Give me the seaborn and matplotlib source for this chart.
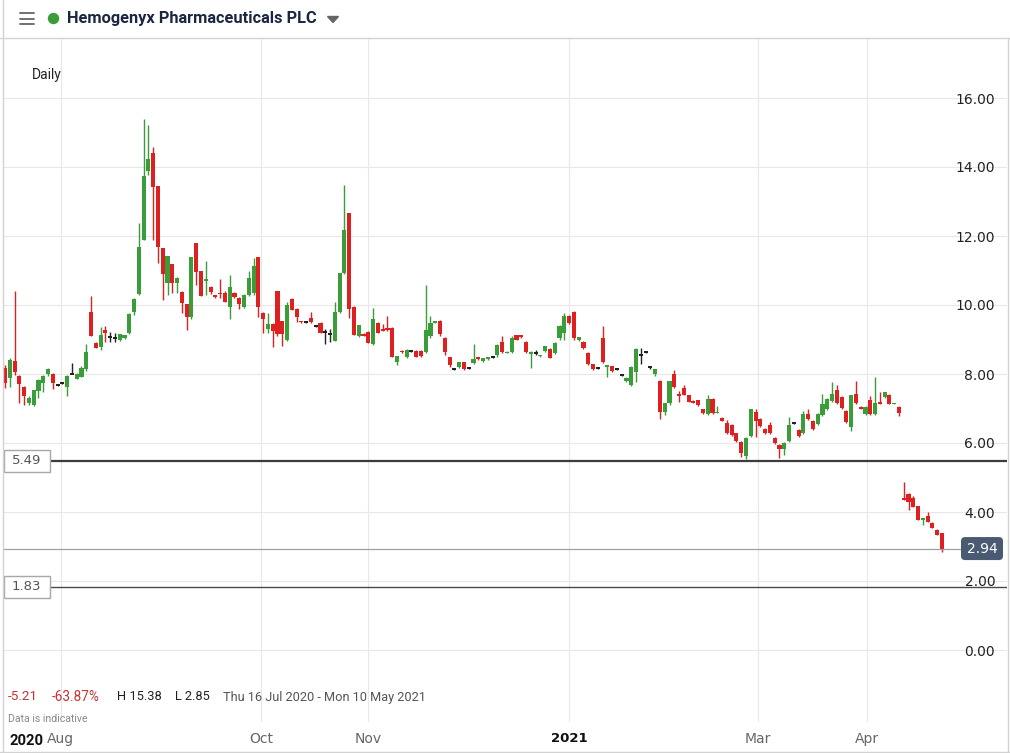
import matplotlib
matplotlib.use("Agg")
import matplotlib.pyplot as plt
import matplotlib.transforms as mtransforms
from matplotlib.patches import Rectangle, FancyBboxPatch, Ellipse, Polygon
from matplotlib.lines import Line2D
import numpy as np
import pandas as pd
import seaborn as sns

# ---------------- data (daily candles, 16 Jul 2020 -> 2021) ----------------
opens = [8.17, 7.88, 8.38, 7.94, 7.62, 7.16, 7.10, 7.51, 7.74, 8.00,
         8.00, 7.68, 7.74, 7.62, 8.00, 7.86, 7.91, 8.14, 9.80, 8.90,
         8.78, 9.28, 9.07, 9.04, 8.99, 9.04, 9.19, 9.80, 10.32, 11.88,
         13.88, 14.41, 13.45, 11.65, 10.64, 11.19, 10.64, 10.38, 10.03, 9.65,
         11.80, 10.99, 10.70, 10.52, 10.29, 10.35, 10.35, 9.94, 10.35, 10.20,
         9.94, 10.29, 10.35, 11.39, 9.77, 9.30, 9.45, 10.41, 9.54, 8.99,
         10.17, 9.88, 9.53, 9.51, 9.62, 9.39, 9.48, 9.22, 9.16, 8.96,
         9.80, 10.93, 12.67, 9.94, 9.10, 9.16, 9.22, 8.87, 9.48, 9.30,
         9.33, 9.33, 8.35, 8.68, 8.50, 8.67, 8.67, 8.67, 8.64, 9.10,
         9.50, 9.54, 9.04, 8.49, 8.14, 8.20, 8.35, 8.17, 8.32, 8.49,
         8.38, 8.43, 8.49, 8.55, 8.93, 8.61, 8.64, 9.13, 9.13, 8.93,
         8.58, 8.61, 8.52, 8.67, 8.72, 8.61, 9.04, 9.19, 9.68, 9.80,
         8.99, 8.93, 8.61, 8.29, 8.17, 9.04, 8.20, 8.23, 8.14, 7.97,
         7.80, 7.68, 8.06, 8.55, 8.64, 8.20, 8.00, 7.80, 6.90, 7.16,
         8.00, 7.42, 7.59, 7.39, 7.22, 7.25, 6.99, 6.84, 7.28, 6.87,
         6.72, 6.58, 6.52, 6.29, 6.03, 5.62, 6.20, 6.90, 6.70, 6.41,
         6.52, 6.14, 5.94, 5.82, 6.06, 6.58, 6.38, 6.29, 6.84, 6.64,
         6.55, 6.81, 6.99, 7.22, 7.54, 7.33, 6.93, 6.46, 7.42, 7.04,
         6.84, 7.25, 6.84, 7.19, 7.33, 7.39, 7.13, 7.04, 4.40, 4.52,
         4.41, 4.17, 3.79, 3.88, 3.68, 3.48, 3.39]
highs = [8.25, 8.45, 10.41, 7.97, 7.65, 7.36, 7.55, 7.85, 7.96, 8.17,
         8.02, 7.70, 7.76, 7.97, 8.32, 8.02, 8.23, 8.87, 10.26, 8.92,
         9.36, 9.39, 9.22, 9.19, 9.16, 9.13, 9.77, 10.20, 12.38, 15.38,
         15.22, 14.58, 13.45, 11.65, 11.42, 11.20, 10.80, 10.40, 10.03, 11.39,
         11.80, 10.99, 11.28, 10.55, 10.30, 10.75, 10.40, 10.87, 10.38, 10.22,
         10.32, 10.99, 11.36, 11.39, 9.80, 9.77, 9.48, 10.41, 9.55, 10.10,
         10.20, 9.90, 9.55, 9.53, 9.80, 9.41, 9.50, 9.30, 9.30, 10.09,
         10.93, 13.48, 12.67, 9.96, 9.42, 9.20, 9.25, 9.91, 9.50, 9.45,
         9.68, 9.35, 8.52, 8.70, 8.72, 8.69, 8.70, 8.70, 10.58, 9.68,
         9.53, 9.56, 9.06, 8.50, 8.16, 8.36, 8.36, 8.19, 8.87, 8.50,
         8.47, 8.50, 8.51, 8.86, 9.10, 8.66, 9.10, 9.14, 9.14, 8.95,
         8.66, 8.70, 8.56, 8.82, 8.74, 8.92, 9.41, 9.77, 9.70, 9.83,
         9.08, 8.95, 8.63, 8.30, 8.19, 9.39, 8.27, 8.24, 8.16, 7.99,
         7.90, 8.22, 8.75, 8.75, 8.66, 8.22, 8.15, 7.82, 7.16, 7.80,
         8.12, 7.51, 7.68, 7.40, 7.24, 7.26, 7.00, 7.38, 7.29, 7.06,
         6.74, 6.68, 6.54, 6.30, 6.05, 6.16, 6.99, 6.99, 6.72, 6.43,
         6.62, 6.16, 5.96, 6.02, 6.75, 6.60, 6.40, 6.94, 7.00, 6.66,
         6.87, 7.42, 7.30, 7.77, 7.68, 7.35, 6.95, 7.39, 7.80, 7.06,
         7.06, 7.35, 7.91, 7.48, 7.48, 7.41, 7.17, 7.06, 4.87, 4.55,
         4.47, 4.18, 3.82, 4.00, 3.70, 3.50, 3.40]
lows = [7.59, 7.62, 7.97, 7.16, 7.10, 7.10, 7.07, 7.30, 7.48, 7.94,
        7.57, 7.66, 7.72, 7.36, 8.00, 7.86, 7.91, 8.10, 9.10, 8.75,
        8.70, 8.93, 8.93, 8.93, 8.96, 9.02, 9.15, 9.71, 10.30, 11.88,
        13.77, 11.88, 11.22, 10.14, 10.29, 10.35, 10.35, 9.77, 9.28, 9.60,
        10.58, 10.26, 10.29, 10.32, 10.20, 10.20, 10.09, 9.59, 10.20, 9.88,
        9.90, 10.25, 10.30, 9.65, 9.19, 9.19, 8.78, 9.10, 8.81, 8.95,
        9.86, 9.50, 9.48, 9.49, 9.48, 9.37, 9.19, 8.87, 8.93, 8.96,
        9.78, 10.90, 9.62, 9.13, 9.08, 9.10, 8.90, 8.85, 9.19, 9.24,
        9.25, 8.50, 8.26, 8.62, 8.45, 8.65, 8.50, 8.50, 8.60, 9.05,
        9.48, 9.10, 8.55, 8.20, 8.12, 8.18, 8.12, 8.15, 8.30, 8.42,
        8.36, 8.41, 8.47, 8.50, 8.60, 8.60, 8.60, 8.98, 9.05, 8.60,
        8.17, 8.55, 8.50, 8.65, 8.45, 8.58, 8.98, 9.00, 9.45, 9.00,
        8.95, 8.72, 8.27, 8.12, 8.15, 8.33, 7.91, 8.07, 8.12, 7.95,
        7.78, 7.66, 7.77, 8.30, 8.62, 8.15, 7.95, 6.71, 6.80, 7.10,
        7.60, 7.20, 7.38, 7.18, 7.15, 7.08, 6.85, 6.82, 6.85, 6.86,
        6.63, 6.25, 6.20, 6.04, 5.58, 5.55, 6.18, 6.17, 6.47, 6.27,
        6.27, 5.98, 5.57, 5.65, 6.04, 6.56, 6.18, 6.27, 6.68, 6.39,
        6.52, 6.78, 6.97, 7.20, 7.12, 6.98, 6.58, 6.36, 7.14, 6.98,
        6.82, 6.82, 6.82, 7.12, 7.30, 7.12, 7.12, 6.78, 4.34, 4.06,
        4.14, 3.77, 3.62, 3.70, 3.53, 3.32, 2.85]
closes = [7.74, 8.41, 8.06, 7.71, 7.36, 7.30, 7.54, 7.83, 7.94, 8.14,
          7.74, 7.68, 7.74, 7.94, 8.00, 8.00, 8.17, 8.64, 9.10, 8.75,
          9.13, 9.19, 9.07, 9.04, 9.16, 9.13, 9.74, 10.17, 11.68, 13.74,
          14.23, 13.42, 11.68, 10.90, 11.42, 10.64, 10.78, 10.06, 9.65, 11.39,
          10.96, 10.26, 10.74, 10.38, 10.23, 10.32, 10.09, 10.52, 10.23, 10.03,
          10.29, 10.78, 11.13, 9.94, 9.59, 9.45, 9.25, 9.16, 9.16, 10.00,
          9.86, 9.65, 9.51, 9.51, 9.51, 9.39, 9.19, 9.22, 9.16, 9.80,
          10.93, 12.17, 9.88, 9.13, 9.42, 9.10, 8.90, 9.59, 9.19, 9.25,
          9.28, 8.50, 8.52, 8.64, 8.70, 8.67, 8.50, 8.52, 9.28, 9.48,
          9.52, 9.16, 8.64, 8.26, 8.14, 8.35, 8.14, 8.17, 8.43, 8.43,
          8.46, 8.49, 8.49, 8.84, 8.64, 8.64, 9.04, 8.99, 9.07, 8.64,
          8.64, 8.61, 8.55, 8.81, 8.46, 8.90, 9.39, 9.68, 9.48, 9.04,
          9.07, 8.75, 8.29, 8.14, 8.17, 8.35, 8.26, 8.09, 8.14, 7.97,
          7.88, 8.20, 8.72, 8.55, 8.64, 8.20, 8.14, 6.90, 7.16, 7.80,
          7.62, 7.36, 7.39, 7.19, 7.16, 7.10, 6.87, 7.28, 6.87, 6.90,
          6.64, 6.29, 6.23, 6.06, 5.71, 6.14, 6.99, 6.64, 6.49, 6.29,
          6.29, 6.00, 5.82, 6.00, 6.52, 6.58, 6.20, 6.84, 6.70, 6.41,
          6.84, 7.13, 7.28, 7.42, 7.16, 7.01, 6.61, 7.39, 7.16, 6.99,
          7.04, 6.84, 7.16, 7.13, 7.48, 7.13, 7.16, 6.87, 4.36, 4.29,
          4.14, 3.77, 3.81, 3.71, 3.54, 3.33, 2.94]

month_pos = [11.7, 53.5, 75.9, 118.0, 157.5, 180.3]
month_labels = ["Aug", "Oct", "Nov", "2021", "Mar", "Apr"]
year_labels = {"2021"}
ytick_values = [0, 2, 4, 6, 8, 10, 12, 14, 16]
level_hi = 5.49
level_lo = 1.83
last_price = 2.94
title = "Hemogenyx Pharmaceuticals PLC"
info_change = "-5.21"
info_pct = "-63.87%"
info_high = "H 15.38"
info_low = "L 2.85"
info_range = "Thu 16 Jul 2020 - Mon 10 May 2021"

# ---------------- styling ----------------
GREEN = "#3a9d3a"
RED = "#dd2020"
BLACK = "#222222"
GRID = "#e8e8e8"
BORDER = "#d2d2d2"

W, H = 1010, 753
sns.set_theme(style="white")
plt.rcParams['font.family'] = ['DejaVu Sans']

fig = plt.figure(figsize=(W / 100, H / 100), dpi=100)
fig.patch.set_facecolor("white")

AX_L, AX_R, AX_T, AX_B = 3, 1007, 38, 722
ax = fig.add_axes([AX_L / W, 1 - AX_B / H, (AX_R - AX_L) / W, (AX_B - AX_T) / H])
ax.set_facecolor("white")

df = pd.DataFrame({"open": opens, "high": highs, "low": lows, "close": closes})
df["x"] = np.arange(len(df))


def colour(r):
    if r.close > r.open:
        return GREEN
    if r.close < r.open:
        return RED
    return BLACK


df["color"] = df.apply(colour, axis=1)

ax.vlines(df["x"], df["low"], df["high"], colors=df["color"], linewidth=1.0, zorder=3)
min_h = 0.04
diff = (df["close"] - df["open"]).abs()
body_h = np.maximum(diff, min_h)
body_b = np.where(diff < min_h, (df["open"] + df["close"]) / 2 - min_h / 2,
                  np.minimum(df["open"], df["close"]))
ax.bar(df["x"], body_h, bottom=body_b, width=0.86, color=df["color"], linewidth=0, zorder=4)

spacing = 937 / (len(df) - 1)
ax.set_xlim((AX_L - 5) / spacing, (AX_R - 5) / spacing)
ppu = 34.5
ax.set_ylim((650 - AX_B) / ppu, (650 - AX_T) / ppu)

# grid
ax.set_xticks(month_pos)
ax.set_xticklabels(month_labels)
ax.set_yticks(ytick_values)
ax.yaxis.tick_right()
ax.set_yticklabels([f"{v:.2f}" for v in ytick_values], ha="right")
ax.grid(True, color=GRID, linewidth=0.8)
ax.set_axisbelow(True)
for s in ax.spines.values():
    s.set_visible(False)
ax.tick_params(axis="y", length=0, pad=-8.5, labelsize=10, labelcolor="#222222")
ax.tick_params(axis="x", length=0, pad=7.5, labelsize=10, labelcolor="#666666")
for t in ax.get_xticklabels():
    if t.get_text() in year_labels:
        t.set_color("#111111")
        t.set_fontweight("bold")
        t.set_fontsize(9.5)

# level lines
xf = lambda px: (px - AX_L) / (AX_R - AX_L)
ax.axhline(level_hi, xmin=xf(50), xmax=1, color="#3c3c3c", linewidth=1.6, zorder=5)
ax.axhline(level_lo, xmin=xf(50), xmax=1, color="#4a4a4a", linewidth=1.0, zorder=5)
ax.axhline(last_price, xmin=0, xmax=xf(961), color="#a0a0a0", linewidth=0.9, zorder=5)

blend = mtransforms.blended_transform_factory(ax.transAxes, ax.transData)
for lv in (level_hi, level_lo):
    hh = 22 / ppu
    ax.add_patch(Rectangle((xf(3.5), lv - hh / 2), xf(50) - xf(3.5), hh, transform=blend,
                           facecolor="white", edgecolor="#a8a8a8", linewidth=1.0, zorder=6))
    ax.text(xf(26.5), lv, f"{lv:.2f}", transform=blend, ha="center", va="center",
            fontsize=9.5, color="#555555", zorder=7)

hh = 23 / ppu
ax.add_patch(FancyBboxPatch((xf(961), last_price - hh / 2), xf(1003) - xf(961), hh,
                            boxstyle="round,pad=0,rounding_size=0.004", transform=blend,
                            facecolor="#4b5a73", edgecolor="none", zorder=6,
                            mutation_aspect=30))
ax.text(xf(982), last_price, f"{last_price:.2f}", transform=blend, ha="center",
        va="center", fontsize=10, color="white", zorder=7)

# ---------------- figure chrome ----------------
def P(x, y):
    return (x / W, 1 - y / H)


renderer = fig.canvas.get_renderer()


def fit_text(x, y, s, width, size=10, **kw):
    t = fig.text(*P(x, y), s, fontsize=size, va="center", ha="left", **kw)
    w = t.get_window_extent(renderer).width
    t.set_fontsize(size * width / w)
    return t


fig.add_artist(Line2D([0, 1], [1 - 38 / H] * 2, color=BORDER, linewidth=1.0))
fig.add_artist(Line2D([3 / W] * 2, [0, 1], color=BORDER, linewidth=1.0))
fig.add_artist(Line2D([1007.5 / W] * 2, [1 - 752 / H, 1 - 38 / H], color=BORDER, linewidth=1.0))
fig.add_artist(Line2D([0, 1], [1 - 751.5 / H] * 2, color=BORDER, linewidth=1.0))

for yy in (13, 18.5, 24):
    fig.add_artist(Line2D([20 / W, 34 / W], [1 - yy / H] * 2, color="#666666", linewidth=1.3))
fig.add_artist(Ellipse(P(53.5, 18.5), 10 / W, 10 / H, color=GREEN))
fig.add_artist(Polygon([P(327.5, 16.5), P(338.5, 16.5), P(333, 22.5)], closed=True,
                       color="#666666"))

title_font = ["Roboto", "DejaVu Sans"]
fit_text(67, 18.5, title, 251, size=11, fontweight="bold", color="#1b2640", family=title_font)
fit_text(32, 75, "Daily", 30, size=9, color="#222222", family=title_font)

fit_text(223, 697, info_range, 204, size=9.5, color="#555555", family=title_font)
fit_text(8, 697, info_change, 30, size=9.5, color="#c83232", family=title_font)
fit_text(52, 697, info_pct, 48, size=9.5, color="#c83232", family=title_font)
fit_text(117, 697, info_high, 45, size=9.5, color="#222222", family=title_font)
fit_text(175, 697, info_low, 35, size=9.5, color="#222222", family=title_font)
fit_text(8, 719, "Data is indicative", 79, size=7.5, color="#888888", family=title_font)
fit_text(9, 741, "2020", 34, size=9.5, color="#111111", fontweight="bold", family=title_font)

fig.savefig("out.png", dpi=100)
